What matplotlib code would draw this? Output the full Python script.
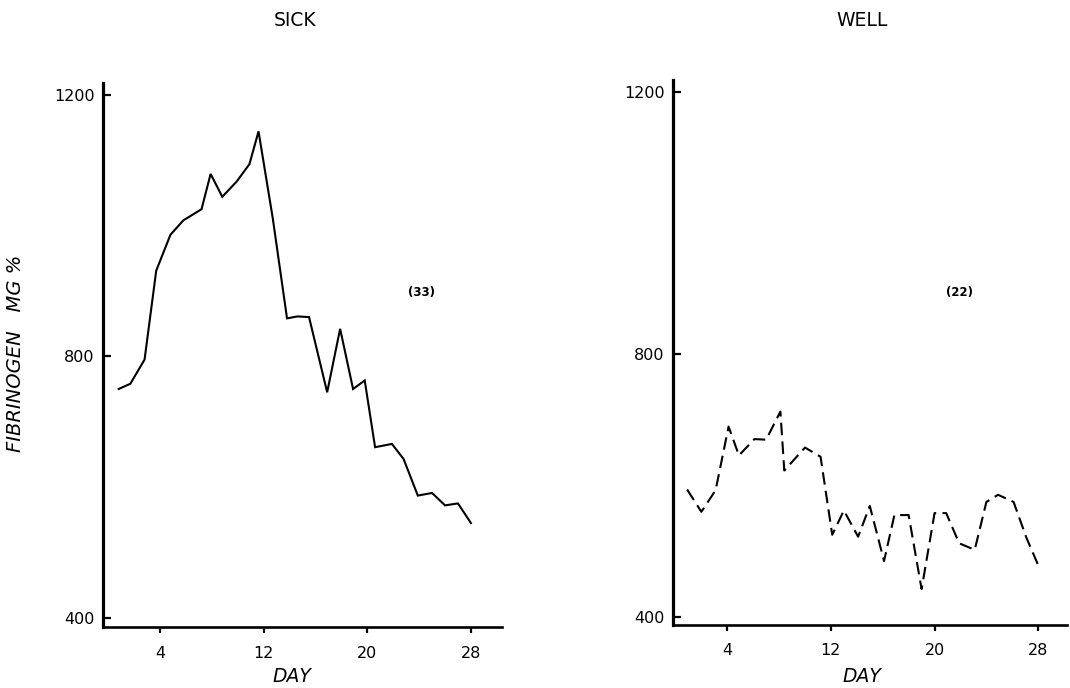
import matplotlib
matplotlib.use("Agg")
import matplotlib.pyplot as plt

# ---- data ----
sick_day = [0.8, 1.7, 2.8, 3.7, 4.8, 5.8, 7.2, 7.9, 8.8, 9.9, 10.9, 11.6, 12.7, 13.8,
            14.6, 15.5, 16.9, 17.9, 18.9, 19.8, 20.6, 21.9, 22.8, 23.9, 25.0, 26.0, 27.0, 28.0]
sick_val = [750, 758, 795, 931, 986, 1008, 1025, 1079, 1044, 1067, 1094, 1144, 1011, 858,
            861, 860, 745, 842, 750, 763, 661, 666, 643, 587, 591, 572, 575, 545]

well_day = [0.9, 2.0, 3.1, 4.1, 4.9, 6.1, 7.0, 8.1, 8.4, 10.0, 11.2, 12.1, 13.0, 14.1,
            15.0, 16.1, 16.9, 18.0, 19.0, 20.0, 20.9, 21.9, 23.1, 24.0, 24.9, 26.1, 27.1, 28.1]
well_val = [594, 560, 593, 690, 646, 671, 670, 713, 623, 658, 644, 525, 562, 522,
            569, 485, 555, 555, 442, 558, 558, 512, 502, 575, 586, 575, 520, 474]

x_ticks = [4, 12, 20, 28]
y_ticks = [400, 800, 1200]
titles = ["SICK", "WELL"]
counts = ["(33)", "(22)"]
count_pos = [(24.2, 897), (21.95, 895)]
y_label = "FIBRINOGEN   MG %"
x_label = "DAY"

plt.rcParams['font.family'] = ['DejaVu Sans']

W, H = 1070, 688
fig = plt.figure(figsize=(W / 100, H / 100), dpi=100)
fig.patch.set_facecolor("white")

ax_l = fig.add_axes([103 / W, 1 - 627 / H, 399 / W, (627 - 83) / H])
ax_r = fig.add_axes([673 / W, 1 - 625 / H, 393.7 / W, (625 - 80) / H])

specs = [
    (ax_l, sick_day, sick_val, "solid", (-0.41, 30.4), (386, 1218), 9.5),
    (ax_r, well_day, well_val, "dashed", (-0.19, 30.2), (387.3, 1218.8), 8.5),
]

for i, (ax, xd, yd, ls, xl, yl, xpad) in enumerate(specs):
    line, = ax.plot(xd, yd, color="black", lw=1.5, solid_joinstyle="miter")
    if ls == "dashed":
        line.set_dashes([6, 3])
    ax.set_xlim(*xl)
    ax.set_ylim(*yl)
    for s in ("top", "right"):
        ax.spines[s].set_visible(False)
    ax.spines["left"].set_linewidth(2.3)
    ax.spines["bottom"].set_linewidth(1.9)
    ax.set_xticks(x_ticks)
    ax.set_xticklabels([str(t) for t in x_ticks])
    ax.set_yticks(y_ticks)
    ax.set_yticklabels([str(t) for t in y_ticks])
    ax.tick_params(axis="y", direction="in", length=6, width=1.6, pad=6, labelsize=11.5)
    ax.tick_params(axis="x", direction="out", length=4.5, width=1.6, pad=xpad, labelsize=11.5)
    ax.set_facecolor("none")
    cx, cy = count_pos[i]
    ax.text(cx, cy, counts[i], fontsize=8.5, fontweight="bold", ha="center", va="center")

fig.text(295 / W, 1 - 20 / H, titles[0], fontsize=13.5, ha="center", va="center")
fig.text(862 / W, 1 - 20 / H, titles[1], fontsize=13.5, ha="center", va="center")
fig.text(292 / W, 1 - 676 / H, x_label, fontsize=13.5, style="italic", ha="center", va="center")
fig.text(862 / W, 1 - 676 / H, x_label, fontsize=13.5, style="italic", ha="center", va="center")
fig.text(16 / W, 1 - 353.5 / H, y_label, fontsize=14, style="italic", rotation=90,
         ha="center", va="center")

fig.savefig("out.png", dpi=100, facecolor="white")
